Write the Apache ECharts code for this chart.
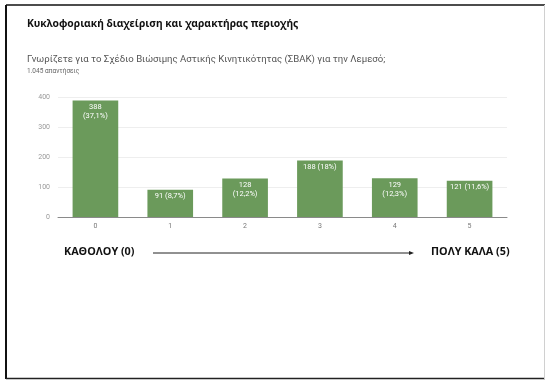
<!DOCTYPE html>
<html>
<head>
<meta charset="utf-8">
<script src="https://cdn.jsdelivr.net/npm/echarts@6/dist/echarts.min.js"></script>
<style>
  html, body { margin: 0; padding: 0; background: #fff; }
  #chart { width: 547px; height: 380px; }
</style>
</head>
<body>
<div id="chart"></div>
<script>
// Survey answers on a 0–5 scale
const categories = ['0', '1', '2', '3', '4', '5'];
const counts = [388, 91, 128, 188, 129, 121];
const percents = ['37,1%', '8,7%', '12,2%', '18%', '12,3%', '11,6%'];
const wrapLabel = [true, false, true, false, true, false];
const yTicks = [0, 100, 200, 300, 400];

const sectionTitle = 'Κυκλοφοριακή διαχείριση και χαρακτήρας περιοχής';
const question = 'Γνωρίζετε για το Σχέδιο Βιώσιμης Αστικής Κινητικότητας (ΣΒΑΚ) για την Λεμεσό;';
const responses = '1.045 απαντήσεις';
const scaleLow = 'ΚΑΘΟΛΟΥ (0)';
const scaleHigh = 'ΠΟΛΥ ΚΑΛΑ (5)';

const chart = echarts.init(document.getElementById('chart'));

chart.setOption({
  backgroundColor: '#ffffff',
  animation: false,
  title: [
    {
      text: sectionTitle, left: 27, top: 19, padding: 0,
      textStyle: { fontFamily: 'Noto Sans', fontWeight: 'bold', fontSize: 10.3, color: '#111' }
    },
    {
      text: question, left: 27, top: 55, padding: 0,
      textStyle: { fontFamily: 'Roboto', fontWeight: 'normal', fontSize: 9.6, color: '#555' }
    },
    {
      text: responses, left: 27, top: 68, padding: 0,
      textStyle: { fontFamily: 'Roboto', fontWeight: 'normal', fontSize: 6.5, color: '#666' }
    }
  ],
  grid: { left: 58, right: 40, top: 97, bottom: 163 },
  xAxis: {
    type: 'category',
    data: categories,
    axisLine: { lineStyle: { color: '#8a8a8a', width: 1 } },
    axisTick: { show: false },
    axisLabel: { color: '#777', fontSize: 7, fontFamily: 'Roboto', margin: 6 }
  },
  yAxis: {
    type: 'value',
    min: yTicks[0],
    max: yTicks[yTicks.length - 1],
    interval: yTicks[1] - yTicks[0],
    axisLine: { show: false },
    axisTick: { show: false },
    splitLine: { lineStyle: { color: '#eeeeee', width: 1 } },
    axisLabel: { color: '#999', fontSize: 7, fontFamily: 'Roboto', margin: 8 }
  },
  series: [{
    type: 'bar',
    data: counts,
    barWidth: '61%',
    itemStyle: { color: '#6b9a5b' },
    label: {
      show: true,
      position: 'insideTop',
      distance: 2,
      color: '#fff',
      fontSize: 7.5,
      lineHeight: 9,
      fontFamily: 'Roboto',
      formatter: p => counts[p.dataIndex] + (wrapLabel[p.dataIndex] ? '\n' : ' ') + '(' + percents[p.dataIndex] + ')'
    }
  }],
  graphic: [
    // frame around the slide
    { type: 'line', shape: { x1: 6, y1: 5, x2: 6, y2: 379 }, style: { stroke: '#111', lineWidth: 2 } },
    { type: 'line', shape: { x1: 6, y1: 5, x2: 545, y2: 5 }, style: { stroke: '#111', lineWidth: 1.5 } },
    { type: 'line', shape: { x1: 6, y1: 378.5, x2: 545, y2: 378.5 }, style: { stroke: '#222', lineWidth: 1.5 } },
    { type: 'line', shape: { x1: 544.5, y1: 5, x2: 544.5, y2: 379 }, style: { stroke: '#d0d0d0', lineWidth: 1 } },
    // scale endpoints and arrow
    {
      type: 'text', left: 64, top: 246,
      style: { text: scaleLow, fontFamily: 'Open Sans', fontWeight: 'bold', fontSize: 10.8, fill: '#111' }
    },
    {
      type: 'text', left: 431, top: 246,
      style: { text: scaleHigh, fontFamily: 'Open Sans', fontWeight: 'bold', fontSize: 10.8, fill: '#111' }
    },
    { type: 'line', shape: { x1: 153, y1: 253, x2: 410, y2: 253 }, style: { stroke: '#222', lineWidth: 1 } },
    { type: 'polygon', shape: { points: [[409, 251], [414, 253], [409, 255]] }, style: { fill: '#222' } }
  ]
});
</script>
</body>
</html>
